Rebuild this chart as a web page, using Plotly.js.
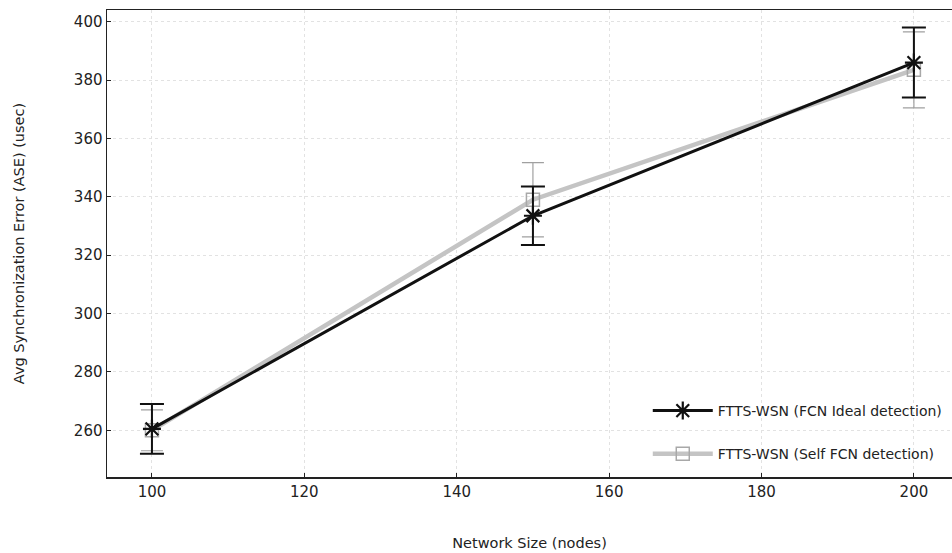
<!DOCTYPE html>
<html><head><meta charset="utf-8">
<script src="https://cdn.plot.ly/plotly-3.0.1.min.js"></script>
<style>html,body{margin:0;padding:0;background:#fff}#chart{width:952px;height:553px}</style>
</head><body><div id="chart"></div>
<script>
const networkSize = [100, 150, 200];
const ideal = [260.5, 333.5, 386];
const idealErr = [8.5, 10, 12];
const selfFcn = [260, 339, 383.5];
const selfErr = [7, 12.7, 13];
const names = ['FTTS-WSN (FCN Ideal detection)', 'FTTS-WSN (Self FCN detection)'];
const font = '"DejaVu Sans", Arial, sans-serif';

const traces = [
  {x: networkSize, y: selfFcn, name: names[1], mode: 'lines+markers', legendgroup: 'b', legendrank: 2,
   line: {color: '#c4c4c4', width: 4.5},
   marker: {symbol: 'square-open', size: 13, color: '#a8a8a8', line: {width: 1.5}},
   error_y: {type: 'data', array: selfErr, visible: true, color: '#a0a0a0', thickness: 1.2, width: 11}},
  {x: networkSize, y: ideal, name: names[0], mode: 'lines+markers', legendgroup: 'a', legendrank: 1,
   line: {color: '#111', width: 3},
   marker: {symbol: 'asterisk-open', size: 15, color: '#111', line: {width: 2.2, color: '#111'}},
   error_y: {type: 'data', array: idealErr, visible: true, color: '#111', thickness: 2, width: 12}}
];

const layout = {
  width: 952, height: 553,
  margin: {l: 107, r: 0, t: 10, b: 76},
  paper_bgcolor: '#fff', plot_bgcolor: '#fff',
  font: {family: font, size: 14, color: '#222'},
  showlegend: true,
  legend: {x: 0.995, y: 0.015, xanchor: 'right', yanchor: 'bottom', traceorder: 'grouped',
           tracegroupgap: 22, itemwidth: 60,
           bgcolor: 'rgba(255,255,255,0)', font: {family: font, size: 14, color: '#222'}},
  xaxis: {range: [94.1, 205], tickvals: [100, 120, 140, 160, 180, 200],
          showline: true, linecolor: '#222', linewidth: 1.5, mirror: true,
          ticks: 'inside', ticklen: 4, tickcolor: '#222',
          showgrid: true, gridcolor: '#e2e2e2', griddash: 'dot', gridwidth: 1,
          zeroline: false, tickfont: {size: 15},
          title: {text: 'Network Size (nodes)', font: {size: 14.5}, standoff: 38}},
  yaxis: {range: [244, 404], tickvals: [260, 280, 300, 320, 340, 360, 380, 400],
          showline: true, linecolor: '#222', linewidth: 1.5, mirror: true,
          ticks: 'inside', ticklen: 4, tickcolor: '#222',
          showgrid: true, gridcolor: '#e2e2e2', griddash: 'dot', gridwidth: 1,
          zeroline: false, tickfont: {size: 15},
          title: {text: 'Avg Synchronization Error (ASE) (usec)', font: {size: 14.5}, standoff: 46}}
};
Plotly.newPlot('chart', traces, layout, {displayModeBar: false, staticPlot: true});
</script></body></html>
